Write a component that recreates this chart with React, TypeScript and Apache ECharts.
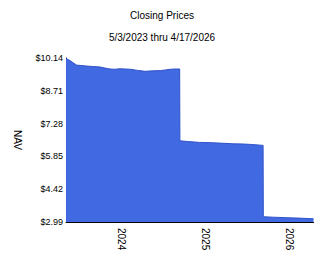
import React, { useEffect, useRef } from "react";
import * as echarts from "echarts";

const dates = ['2023-05-03','2023-05-20','2023-06-18','2023-07-10','2023-08-01','2023-08-25','2023-09-28','2023-10-20','2023-11-11','2023-12-01','2023-12-25','2024-01-15','2024-02-08','2024-03-10','2024-04-13','2024-05-15','2024-06-18','2024-07-10','2024-08-01','2024-08-20','2024-09-10','2024-09-11','2024-10-15','2024-12-06','2025-01-20','2025-03-04','2025-05-01','2025-06-15','2025-07-20','2025-09-09','2025-09-10','2025-10-20','2025-12-15','2026-02-10','2026-04-17'];
const navValues = [10.12,10.03,9.83,9.81,9.79,9.77,9.75,9.70,9.66,9.65,9.67,9.66,9.65,9.60,9.56,9.58,9.59,9.62,9.65,9.66,9.66,6.53,6.50,6.46,6.45,6.43,6.40,6.39,6.37,6.33,3.22,3.20,3.18,3.16,3.13];
const yTicks = [2.99, 4.42, 5.85, 7.28, 8.71, 10.14];
const xTickDates = ['2024-01-01', '2025-01-01', '2026-01-01'];
const titleText = "Closing Prices";
const subtitleText = "5/3/2023 thru 4/17/2026";
const startDate = '2023-05-03';
const endDate = '2026-04-17';

const FONT = "'Liberation Sans', Arial, sans-serif";
const ts = (d: string) => Date.UTC(+d.slice(0, 4), +d.slice(5, 7) - 1, +d.slice(8, 10));

export default function App() {
  const ref = useRef<HTMLDivElement>(null);
  useEffect(() => {
    document.body.style.margin = "0";
    const chart = echarts.init(ref.current!, null, { renderer: "svg" });
    const data = dates.map((d, i) => [ts(d), navValues[i]]);
    chart.setOption({
      animation: false,
      backgroundColor: '#fff',
      title: [
        { text: titleText, left: 'center', top: 10, padding: 0, textStyle: { fontSize: 10, fontWeight: 'normal', color: '#000', fontFamily: FONT } },
        { text: subtitleText, left: 'center', top: 32, padding: 0, textStyle: { fontSize: 10, fontWeight: 'normal', color: '#000', fontFamily: FONT } },
      ],
      grid: { left: 66, top: 58, right: 10.5, bottom: 45, containLabel: false },
      xAxis: {
        type: 'value',
        min: ts(startDate),
        max: ts(endDate),
        axisLine: { show: true, lineStyle: { color: '#000', width: 1 } },
        axisTick: { show: false },
        splitLine: { show: false },
        axisLabel: {
          customValues: xTickDates.map(ts),
          formatter: (v: number) => String(new Date(v).getUTCFullYear()),
          rotate: -90,
          margin: 6,
          fontSize: 10,
          color: '#000',
          fontFamily: FONT,
        },
      },
      yAxis: {
        type: 'value',
        min: 2.99,
        max: 10.14,
        name: 'NAV',
        nameLocation: 'middle',
        nameRotate: -90,
        nameGap: 44,
        nameTextStyle: { fontSize: 10, color: '#000', fontFamily: FONT },
        axisLine: { show: true, lineStyle: { color: '#000', width: 1 } },
        axisTick: { show: false },
        splitLine: { show: false },
        axisLabel: {
          customValues: yTicks,
          formatter: (v: number) => '$' + v.toFixed(2),
          fontSize: 9,
          margin: 3,
          color: '#000',
          fontFamily: FONT,
        },
      },
      series: [{
        type: 'line',
        data,
        symbol: 'none',
        lineStyle: { color: '#2f52c9', width: 1 },
        areaStyle: { color: '#4169E1', opacity: 1, origin: 'start' },
      }],
    });
    return () => chart.dispose();
  }, []);
  return <div ref={ref} style={{ width: 324, height: 267 }} />;
}
